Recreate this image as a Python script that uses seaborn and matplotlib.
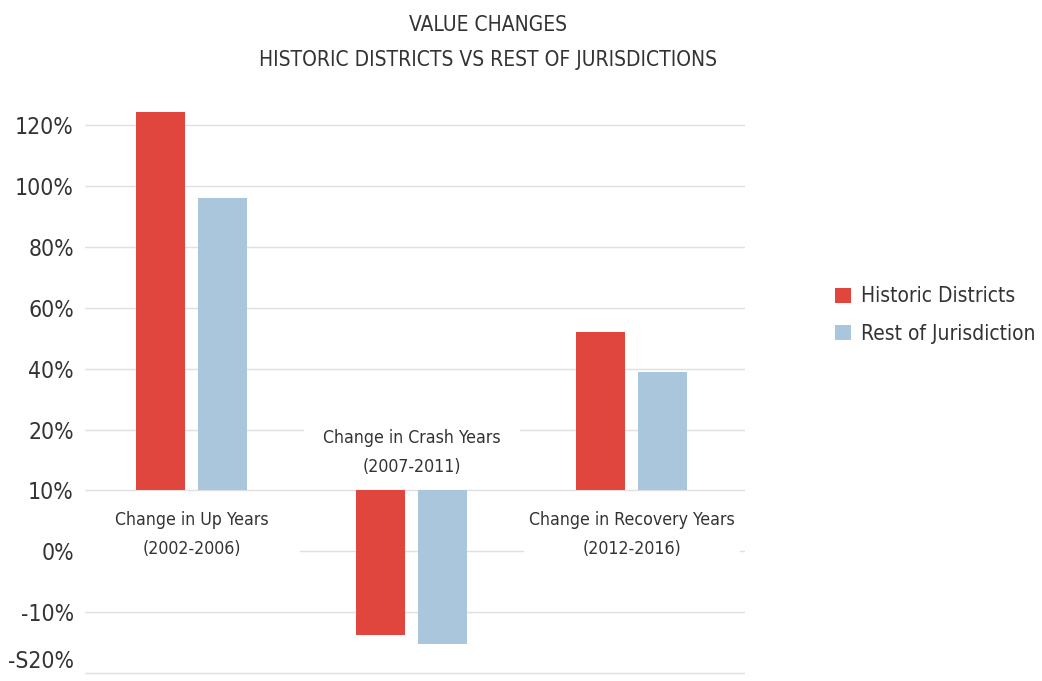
import pandas as pd
import numpy as np
import matplotlib.pyplot as plt
import seaborn as sns
from matplotlib.patches import Rectangle

# данные (высота столбцов в единицах шкалы: одна линия сетки = 20)
categories = ['Change in Up Years\n(2002-2006)',
              'Change in Crash Years\n(2007-2011)',
              'Change in Recovery Years\n(2012-2016)']
historic = [124.5, -47.5, 52.0]
rest = [96.0, -50.5, 39.0]
series_names = ['Historic Districts', 'Rest of Jurisdiction']
tick_values = [120, 100, 80, 60, 40, 20, 0, -20, -40, -60]
tick_labels = ['120%', '100%', '80%', '60%', '40%', '20%', '10%', '0%', '-10%', '-S20%']

sns.set_theme(style='white')
plt.rcParams['font.family'] = ['DejaVu Sans']
plt.rcParams['font.stretch'] = 'condensed'

df = pd.DataFrame({
    'Period': categories * 2,
    'Series': [series_names[0]] * 3 + [series_names[1]] * 3,
    'Value': historic + rest,
})

colors = {series_names[0]: '#E0463D', series_names[1]: '#AAC6DD'}
text_color = '#333333'

fig = plt.figure(figsize=(10.42, 6.81), dpi=100)
ax = fig.add_axes([0.0816, 0.0073, 0.6334, 0.8532])

sns.barplot(data=df, x='Period', y='Value', hue='Series', palette=colors,
            width=0.564, gap=0.21, saturation=1, linewidth=0, ax=ax, zorder=3)

ax.set_xlim(-0.485, 2.515)
ax.set_ylim(-61, 130)
ax.set_yticks(tick_values)
ax.set_yticklabels(tick_labels, fontsize=16.5, color=text_color)
ax.get_yticklabels()[-1].set_va('bottom')
ax.tick_params(axis='y', length=0, pad=8)
ax.set_xticks([])
ax.set_xlabel('')
ax.set_ylabel('')
ax.yaxis.grid(True, color='#e0e0e0', linewidth=1)
ax.set_axisbelow(True)
sns.despine(ax=ax, left=True, bottom=True)

# подписи категорий на белой подложке (закрывают линии сетки)
label_y = [-14.5, 12.5, -14.5]
box_span = [(-24.5, -3.0), (4.0, 22.5), (-24.5, -3.0)]
for i, (cat, ly, (y0, y1)) in enumerate(zip(categories, label_y, box_span)):
    ax.add_patch(Rectangle((i - 0.49, y0), 0.98, y1 - y0, facecolor='white',
                           edgecolor='none', zorder=2))
    ax.text(i, ly, cat, ha='center', va='center', fontsize=12.7,
            color=text_color, linespacing=1.75, zorder=4)

handles, labels = ax.get_legend_handles_labels()
ax.legend(handles, labels, loc='center left', bbox_to_anchor=(1.108, 0.621),
          frameon=False, fontsize=15, handlelength=0.75, handleheight=0.75,
          handletextpad=0.5, labelspacing=0.84, labelcolor=text_color)

fig.text(0.468, 0.938, 'VALUE CHANGES\nHISTORIC DISTRICTS VS REST OF JURISDICTIONS',
         ha='center', va='center', fontsize=15, color=text_color, linespacing=1.95)

fig.savefig('out.png', dpi=100)
